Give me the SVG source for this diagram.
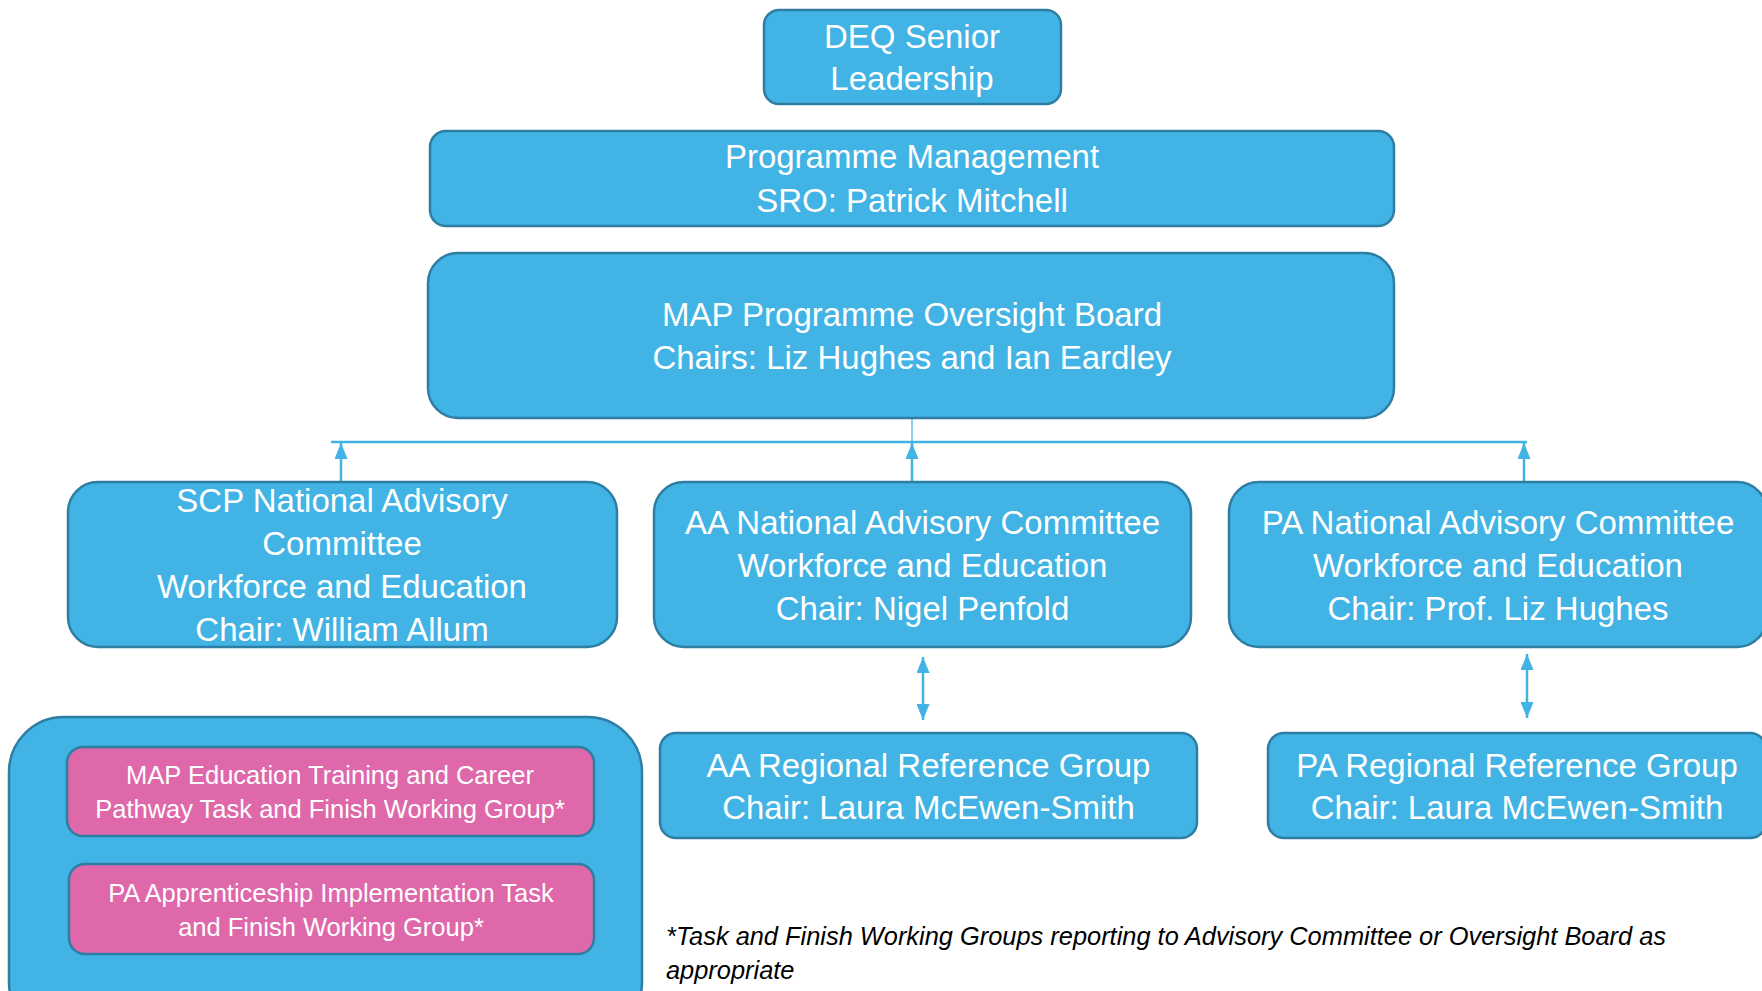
<svg xmlns="http://www.w3.org/2000/svg" width="1762" height="991" viewBox="0 0 1762 991">
<defs>
<style>
.box{fill:#41B3E4;stroke:#2E7EA3;stroke-width:2.5}
.pink{fill:#DE68AA;stroke:#2E7EA3;stroke-width:2.5}
.t{font-family:"Liberation Sans",Arial,sans-serif;font-size:33px;fill:#FFFFFF;text-anchor:middle}
.ts{font-family:"Liberation Sans",Arial,sans-serif;font-size:25.5px;fill:#FFFFFF;text-anchor:middle}
.note{font-family:"Liberation Sans",Arial,sans-serif;font-size:25.4px;font-style:italic;fill:#000000}
.conn{stroke:#41B3E4;stroke-width:2.5;fill:none}
.thin{stroke:#41B3E4;stroke-width:1.2;fill:none}
</style>
<marker id="up" viewBox="0 0 16 13" refX="16" refY="6.5" markerWidth="16" markerHeight="13" markerUnits="userSpaceOnUse" orient="auto-start-reverse">
<path d="M0,0 L16,6.5 L0,13 Z" fill="#41B3E4"/>
</marker>
</defs>
<rect width="1762" height="991" fill="#FFFFFF"/>

<g id="connectors">
<line class="thin" x1="912" y1="418" x2="912" y2="442"/>
<line class="conn" x1="331" y1="442" x2="1527" y2="442"/>
<line class="conn" x1="341" y1="482" x2="341" y2="443" marker-end="url(#up)"/>
<line class="conn" x1="912" y1="482" x2="912" y2="443" marker-end="url(#up)"/>
<line class="conn" x1="1524" y1="482" x2="1524" y2="443" marker-end="url(#up)"/>
<line class="conn" x1="923" y1="657" x2="923" y2="720" marker-start="url(#up)" marker-end="url(#up)"/>
<line class="conn" x1="1527" y1="654" x2="1527" y2="718" marker-start="url(#up)" marker-end="url(#up)"/>
</g>

<g id="deq">
<rect class="box" x="764" y="10" width="297" height="94" rx="15"/>
<text class="t" x="912" y="48">DEQ Senior</text>
<text class="t" x="912" y="90">Leadership</text>
</g>

<g id="programme-management">
<rect class="box" x="430" y="131" width="964" height="95" rx="16"/>
<text class="t" x="912" y="168">Programme Management</text>
<text class="t" x="912" y="212">SRO: Patrick Mitchell</text>
</g>

<g id="oversight-board">
<rect class="box" x="428" y="253" width="966" height="165" rx="30"/>
<text class="t" x="912" y="326">MAP Programme Oversight Board</text>
<text class="t" x="912" y="369">Chairs: Liz Hughes and Ian Eardley</text>
</g>

<g id="scp-nac">
<rect class="box" x="68" y="482" width="549" height="165" rx="30"/>
<text class="t" x="342" y="512">SCP National Advisory</text>
<text class="t" x="342" y="555">Committee</text>
<text class="t" x="342" y="598">Workforce and Education</text>
<text class="t" x="342" y="641">Chair: William Allum</text>
</g>

<g id="aa-nac">
<rect class="box" x="654" y="482" width="537" height="165" rx="30"/>
<text class="t" x="922.5" y="534">AA National Advisory Committee</text>
<text class="t" x="922.5" y="577">Workforce and Education</text>
<text class="t" x="922.5" y="620">Chair: Nigel Penfold</text>
</g>

<g id="pa-nac">
<rect class="box" x="1229" y="482" width="538" height="165" rx="30"/>
<text class="t" x="1498" y="534">PA National Advisory Committee</text>
<text class="t" x="1498" y="577">Workforce and Education</text>
<text class="t" x="1498" y="620">Chair: Prof. Liz Hughes</text>
</g>

<g id="aa-rrg">
<rect class="box" x="660" y="733" width="537" height="105" rx="16"/>
<text class="t" x="928.5" y="777">AA Regional Reference Group</text>
<text class="t" x="928.5" y="819">Chair: Laura McEwen-Smith</text>
</g>

<g id="pa-rrg">
<rect class="box" x="1268" y="733" width="498" height="105" rx="16"/>
<text class="t" x="1517" y="777">PA Regional Reference Group</text>
<text class="t" x="1517" y="819">Chair: Laura McEwen-Smith</text>
</g>

<g id="task-finish-container">
<rect class="box" x="9" y="717" width="633" height="320" rx="55"/>
</g>

<g id="map-etcp-group">
<rect class="pink" x="67" y="747" width="527" height="89" rx="16"/>
<text class="ts" x="330" y="784">MAP Education Training and Career</text>
<text class="ts" x="330" y="818">Pathway Task and Finish Working Group*</text>
</g>

<g id="pa-apprenticeship-group">
<rect class="pink" x="69" y="864" width="525" height="90" rx="16"/>
<text class="ts" x="331" y="902">PA Apprenticeship Implementation Task</text>
<text class="ts" x="331" y="936">and Finish Working Group*</text>
</g>

<g id="footnote">
<text class="note" x="666" y="945">*Task and Finish Working Groups reporting to Advisory Committee or Oversight Board as</text>
<text class="note" x="666" y="979">appropriate</text>
</g>
</svg>
